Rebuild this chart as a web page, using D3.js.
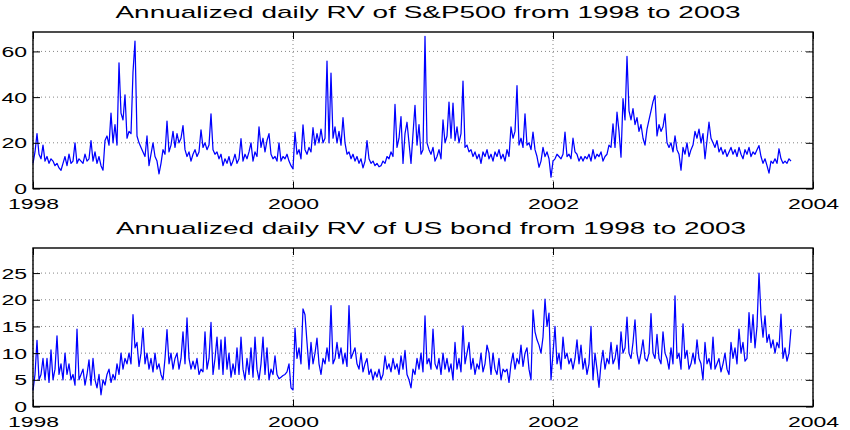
<!DOCTYPE html>
<html>
<head>
<meta charset="utf-8">
<script src="https://cdn.jsdelivr.net/npm/d3@7"></script>
<style>
body { margin: 0; background: #fff; }
svg { font-family: "Liberation Sans", Arial, Helvetica, sans-serif; }
</style>
</head>
<body>
<div id="area"></div>
<script>
var width = 850;
var height = 430;

// observations start at 1998.0, about 65 per year
var startYear = 1998;
var obsPerYear = 65;

var spx = [
11,16,24,15,13,19,12,14,11,13,
12,10,11,9,8,11,14,10,15,11,
12,20,11,13,12,11,15,12,13,21,
12,16,11,14,10,8,21,23,19,33,
20,28,19,55,33,30,41,22,25,24,
51,64.5,23,20,18,16,14,23,10,15,
20,14,12,6.4,11,17,15,29.5,16,19,
25,18,24,20,22,27.5,17,14,16,12,
15,17,14,16,25.7,18,20,17,19,32.7,
17,15,16,13,15,10,13,11,14,10,
12,15,11,13,21.8,12,15,13,16,20,
12,16,14,27,18,22,16,21,24,15,
13,14,12,20,12,14,13,15,12,10,
8.6,24.7,15,17,13,27.9,17,15,18,16,
26.6,19,24,20,26,20,22,55.8,20,50.5,
22,27,20,25,19,31,20,15,16,13,
15,12,14,11,13,9,12,21,13,11,
12,10,11,9.5,10,12,11,14,13,16,
14,36.8,18,22,31.5,11,24,29,20,11,
24,36.4,19,28,15,17,66.6,20,17,15,
18,12,14,17,13,30,20,23,37.8,22,
37.4,21,27,20,24,47,18,19,16,17,
14,16,13,15,11,16,14,17,13,15,
12,16,14,17,13,15,12,17,14,27,
22,25,45,19,22,18,32.7,19,20,17,
24.7,17,14,9.3,12,18,14,16,13,5,
12,13,15,14,13,15,24.7,14,15,13,
22,16,15,12,14,12,14,13,15,12,
17,13,15,14,16,12,14,15,19,18,
28.3,18,33.4,25,13.7,39.3,30,57.8,34,30,
35,28,31,25,28,22,19,26,30,34,
38,40.7,23,28,25,27,32.7,20,18,20,
16,23,17,15,8,18,15,20,14,17,
19,25,22,26,20,24,13,21,29,22,
20,18,21,16,18,15,17,14,16,18,
15,17,14,18,15,13,17,15,18,14,
16,15,17,18.8,14,11,13,10,6.7,12,
11,13,11,17.4,13,11,12,11,13,12
];

var bond = [
3,6,12.4,5,6,9,5,9,4.5,10.6,
5,7,13.25,6,8,5,10,6,8,5,
6,4,14.5,5,6,7,4,6,8.75,4,
9,5,3.5,6,2.2,5,4,6,7,4.5,
6,5,8,6,10,7,9,8,10,8,
17.2,11,12,7.5,10,14.7,8,10,7,9,
6.5,10,7,8,6,5,9,14.4,8,10,
7,9,10,7,9,14,8,16.6,9,7,
8.5,7,9,6,7,6.5,14,7,9,15.75,
6,9,13,7,12.5,6,13,7,10,5.5,
8,6,11,6,13,7,5,9,6,11,
5.5,13,7,5,8,13,6,11,5,7,
6,9.5,6,5.2,5.5,5.8,6,6.5,8,3.5,
3.1,14.7,9,11,8,18.3,17.2,12,7,12,
8,10,12.8,8,6,9,8,11,8.5,18.9,
8,9,12,9,11,8,10,7.5,18.9,9,
10,11,8,7,10,6.5,8,9,6,7,
5,6.5,5.5,7,5,6,9.5,7,8,6.5,
9,7,8,6,9.5,7,10.5,6,5,3.5,
7,6,9,7,10,6.5,17,8,9,7,
14.5,8,7,9,6,10,7,9,6.5,8,
5,12,7,9,6.5,15.1,8,10,12,7,
9,6,8,7,10,6.5,8,11.5,10,6,
10,7,6,9,5,7,6.5,7,4.5,8,
10,7,9,8,11.5,7.5,10,11,7,5,
18.1,14,12.5,11.5,10,13,20.1,15,17.5,5,
10,15,8,10,7,13,9,10,8,9,
7,9,12.5,8,11.5,7,9,6,8,15,
5,10,7,3.6,8,10.5,7,9,8,12,
8,9,11.5,7,14,10,11,16.75,10,9,
12,16.25,10,8,10,12.5,9,8.5,10,17.4,
10,9,13.5,9,8,14,10,9,7,11,
8,20.75,9,10,7,15.5,9,10.5,7,8,
10,8,12.5,9,8,5,12,8,9,7,
13,7,8,9,6.5,8,10,7,6,12,
9,11,8,14.5,10,12,8.5,9,17.6,12,
17.2,11,15,25,17,13,17,12,13.5,11,
12.5,10,12,11,17.3,9,11,8.5,10,14.5
];

var yearTicks = [1998, 2000, 2002, 2004];
var spxTicks = [0, 20, 40, 60];
var bondTicks = [0, 5, 10, 15, 20, 25];
var titles = ["Annualized daily RV of S&P500 from 1998 to 2003",
              "Annualized daily RV of US bond from 1998 to 2003"];

var svg = d3.select("#area").append("svg")
    .attr("width", width)
    .attr("height", height);

var x = d3.scaleLinear().domain([1998, 2004]).range([33, 813]);

function drawPanel(values, ticks, ymax, top, bottom, title, titleX, titleY, titleLen) {
    var y = d3.scaleLinear().domain([0, ymax]).range([bottom, top]);
    var g = svg.append("g");

    // grid
    g.selectAll(".hgrid").data(ticks).enter().append("line")
        .attr("x1", x.range()[0]).attr("x2", x.range()[1])
        .attr("y1", function(d) { return y(d); })
        .attr("y2", function(d) { return y(d); })
        .attr("stroke", "#666").attr("stroke-width", 0.8)
        .attr("stroke-dasharray", "1,3");
    g.selectAll(".vgrid").data(yearTicks).enter().append("line")
        .attr("x1", function(d) { return x(d); })
        .attr("x2", function(d) { return x(d); })
        .attr("y1", top).attr("y2", bottom)
        .attr("stroke", "#666").attr("stroke-width", 0.8)
        .attr("stroke-dasharray", "1,3");

    // series
    var line = d3.line()
        .x(function(d, i) { return x(startYear + i / obsPerYear); })
        .y(function(d) { return y(d); });
    g.append("path")
        .datum(values)
        .attr("fill", "none")
        .attr("stroke", "#0000ff")
        .attr("stroke-width", 1.25)
        .attr("stroke-linejoin", "round")
        .attr("d", line);

    // axes, ticks inward on all four sides
    g.append("g").attr("transform", "translate(" + x.range()[0] + ",0)")
        .call(d3.axisLeft(y).tickValues(ticks).tickSize(-7).tickPadding(6));
    g.append("g").attr("transform", "translate(" + x.range()[1] + ",0)")
        .call(d3.axisRight(y).tickValues(ticks).tickSize(-7).tickFormat(""));
    g.append("g").attr("transform", "translate(0," + bottom + ")")
        .call(d3.axisBottom(x).tickValues(yearTicks).tickSize(-7).tickPadding(9).tickFormat(d3.format("d")));
    g.append("g").attr("transform", "translate(0," + top + ")")
        .call(d3.axisTop(x).tickValues(yearTicks).tickSize(-7).tickFormat(""));

    g.selectAll(".domain").remove();
    g.selectAll(".tick line").attr("stroke", "#000").attr("stroke-width", 1);
    g.selectAll(".tick text")
        .attr("fill", "#000")
        .style("font-size", "15.5px")
        .style("font-family", "'Liberation Sans', Arial, sans-serif")
        .attr("lengthAdjust", "spacingAndGlyphs")
        .attr("textLength", function() { return this.textContent.length * 12.8; });

    // frame
    g.append("rect")
        .attr("x", x.range()[0]).attr("y", top)
        .attr("width", x.range()[1] - x.range()[0])
        .attr("height", bottom - top)
        .attr("fill", "none")
        .attr("stroke", "#000")
        .attr("stroke-width", 1.4);

    // title
    svg.append("text")
        .attr("x", titleX).attr("y", titleY)
        .attr("text-anchor", "middle")
        .style("font-size", "17px")
        .attr("lengthAdjust", "spacingAndGlyphs")
        .attr("textLength", titleLen)
        .text(title);
}

drawPanel(spx, spxTicks, 68.5, 32, 188.5, titles[0], 428, 18.3, 625);
drawPanel(bond, bondTicks, 29.7, 248, 406.5, titles[1], 431, 234, 630);
</script>
</body>
</html>
